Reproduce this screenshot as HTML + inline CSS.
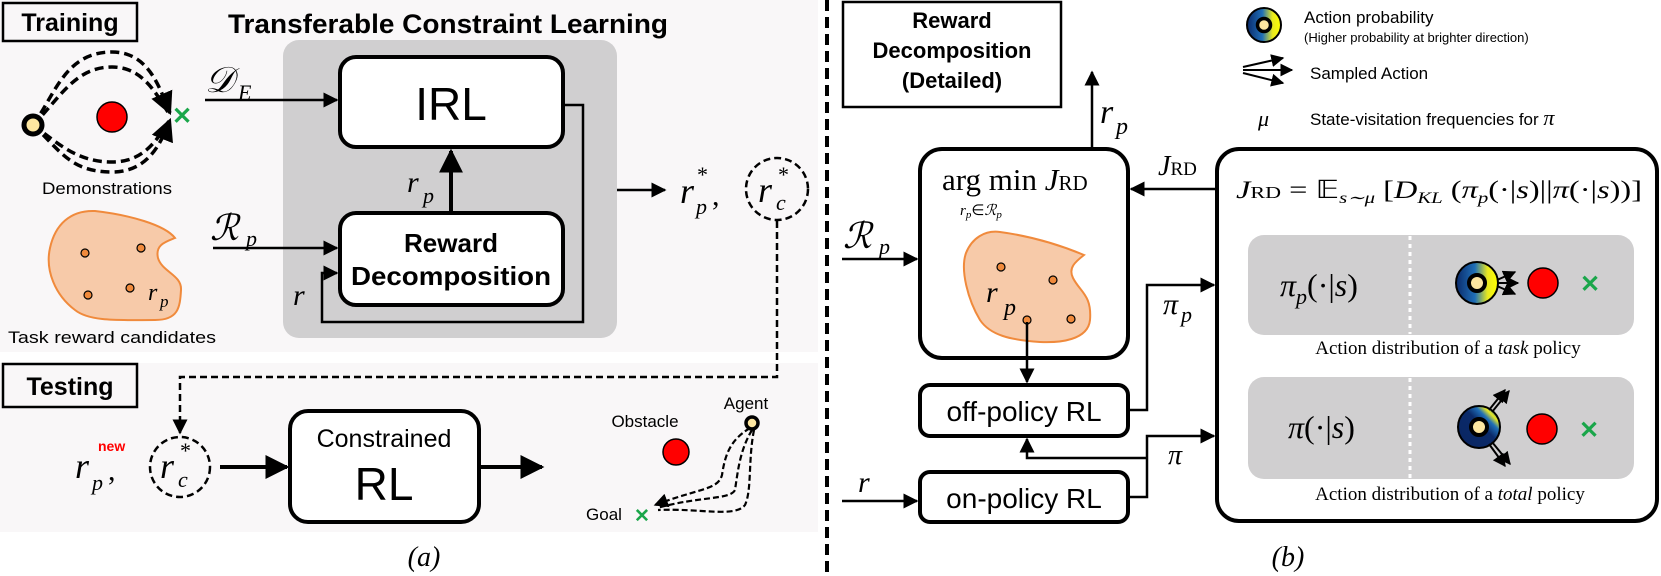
<!DOCTYPE html>
<html><head><meta charset="utf-8"><style>
html,body{margin:0;padding:0;background:#fff;width:1661px;height:576px;overflow:hidden}
svg{display:block}
.sb{font-family:"Liberation Sans",sans-serif;font-weight:bold}
.s{font-family:"Liberation Sans",sans-serif}
.m{font-family:"Liberation Serif",serif;font-style:italic}
.r{font-family:"Liberation Serif",serif}
</style></head><body>
<svg width="1661" height="576" viewBox="0 0 1661 576" xmlns="http://www.w3.org/2000/svg">
<defs>
<marker id="ah" viewBox="0 0 10 10" refX="9" refY="5" markerWidth="6" markerHeight="6" orient="auto-start-reverse" markerUnits="strokeWidth"><path d="M0,0L10,5L0,10z" fill="#000"/></marker>
<marker id="ahs" viewBox="0 0 10 10" refX="9" refY="5" markerWidth="6.5" markerHeight="6.5" orient="auto" markerUnits="strokeWidth"><path d="M0,0L10,5L0,10z" fill="#000"/></marker>
<linearGradient id="g1" x1="0" y1="0" x2="1" y2="0"><stop offset="0" stop-color="#0a2a6a"/><stop offset="0.45" stop-color="#1f6fb8"/><stop offset="0.75" stop-color="#e8e820"/><stop offset="1" stop-color="#ffff00"/></linearGradient>
<linearGradient id="g2" x1="0" y1="1" x2="1" y2="0"><stop offset="0" stop-color="#0a2560"/><stop offset="0.55" stop-color="#0a2a6a"/><stop offset="0.7" stop-color="#1f6fb8"/><stop offset="0.8" stop-color="#e8e820"/><stop offset="0.9" stop-color="#1f6fb8"/><stop offset="1" stop-color="#0a2a6a"/></linearGradient>
</defs>

<rect x="0" y="0" width="818" height="352" fill="#f9f7f8"/>
<rect x="0" y="363" width="818" height="169" fill="#f9f7f8"/>

<rect x="3" y="3" width="134" height="38" fill="none" stroke="#000" stroke-width="2.5"/>
<text x="70" y="31" class="sb" font-size="25" text-anchor="middle">Training</text>
<text x="448" y="33" class="sb" font-size="27" text-anchor="middle" textLength="440" lengthAdjust="spacingAndGlyphs">Transferable Constraint Learning</text>

<rect x="283" y="40" width="334" height="298" rx="16" fill="#d0cfd0"/>
<rect x="340" y="57" width="223" height="90" rx="16" fill="#fff" stroke="#000" stroke-width="4"/>
<text x="451" y="120" class="s" font-size="46" text-anchor="middle">IRL</text>
<rect x="340" y="213" width="223" height="92" rx="16" fill="#fff" stroke="#000" stroke-width="4"/>
<text x="451" y="252" class="sb" font-size="26" text-anchor="middle">Reward</text>
<text x="451" y="285" class="sb" font-size="26" text-anchor="middle" textLength="200" lengthAdjust="spacingAndGlyphs">Decomposition</text>
<line x1="451" y1="213" x2="451" y2="151" stroke="#000" stroke-width="4" marker-end="url(#ah)"/>
<text x="407" y="192" class="m" font-size="30">r</text><text x="423" y="203" class="m" font-size="22">p</text>
<polyline points="563,105 583,105 583,322 322,322 322,273 337,273" fill="none" stroke="#000" stroke-width="2.5" marker-end="url(#ah)"/>
<text x="293" y="305" class="m" font-size="30">r</text>

<text x="205" y="92" class="m" font-size="36">𝒟</text><text x="238" y="100" class="m" font-size="22">E</text>
<line x1="205" y1="100" x2="337" y2="100" stroke="#000" stroke-width="2.5" marker-end="url(#ah)"/>
<text x="210" y="240" class="m" font-size="36">ℛ</text><text x="246" y="246" class="m" font-size="22">p</text>
<line x1="213" y1="248" x2="337" y2="248" stroke="#000" stroke-width="2.5" marker-end="url(#ah)"/>

<g fill="none" stroke="#000" stroke-width="3.5" stroke-dasharray="9,5">
<path d="M33,125 C55,95 65,52 112,52 C150,52 160,90 170,113" marker-end="url(#ahs)"/>
<path d="M33,125 C60,98 75,67 112,67 C145,67 158,98 170,115"/>
<path d="M33,125 C60,150 70,172 112,172 C150,172 162,140 170,120" marker-end="url(#ahs)"/>
<path d="M33,125 C60,145 78,162 112,162 C145,162 158,138 169,121"/>
</g>
<circle cx="33" cy="125" r="9" fill="#fde6a0" stroke="#000" stroke-width="5"/>
<circle cx="112" cy="117" r="15" fill="#f00" stroke="#000" stroke-width="1.5"/>
<text x="182" y="124" class="sb" font-size="24" fill="#1aa64a" text-anchor="middle">✕</text>
<text x="107" y="194" class="s" font-size="17" text-anchor="middle" textLength="130" lengthAdjust="spacingAndGlyphs">Demonstrations</text>

<path d="M95,211 C130,215 165,225 175,238 C165,242 155,245 158,258 C162,272 182,275 181,290 C180,308 178,320 155,320 C120,320 90,322 75,310 C55,295 45,270 50,248 C55,225 70,210 95,211 Z" fill="#f7caa9" stroke="#f08a3c" stroke-width="2"/>
<g fill="#f08a3c" stroke="#000" stroke-width="1.2"><circle cx="85" cy="253" r="4"/><circle cx="141" cy="248" r="4"/><circle cx="88" cy="295" r="4"/><circle cx="130" cy="288" r="4"/></g>
<text x="148" y="300" class="m" font-size="24">r</text><text x="160" y="307" class="m" font-size="17">p</text>
<text x="112" y="343" class="s" font-size="17" text-anchor="middle" textLength="208" lengthAdjust="spacingAndGlyphs">Task reward candidates</text>

<line x1="617" y1="190" x2="665" y2="190" stroke="#000" stroke-width="2.5" marker-end="url(#ah)"/>
<text x="680" y="203" class="m" font-size="36">r</text><text x="697" y="182" class="r" font-size="22">*</text><text x="696" y="214" class="m" font-size="22">p</text><text x="712" y="205" class="r" font-size="30">,</text>
<circle cx="777" cy="189" r="31" fill="none" stroke="#000" stroke-width="2.5" stroke-dasharray="7,4"/>
<text x="758" y="202" class="m" font-size="36">r</text><text x="778" y="182" class="r" font-size="22">*</text><text x="776" y="210" class="m" font-size="22">c</text>
<polyline points="777,221 777,377 180,377 180,433" fill="none" stroke="#000" stroke-width="2.5" stroke-dasharray="7,4" marker-end="url(#ah)"/>

<rect x="3" y="364" width="134" height="43" fill="none" stroke="#000" stroke-width="2.5"/>
<text x="70" y="395" class="sb" font-size="25" text-anchor="middle">Testing</text>
<text x="75" y="478" class="m" font-size="36">r</text><text x="92" y="490" class="m" font-size="22">p</text><text x="108" y="480" class="r" font-size="30">,</text>
<text x="98" y="451" class="sb" font-size="14" fill="#f00">new</text>
<circle cx="180" cy="467" r="30" fill="none" stroke="#000" stroke-width="2.5" stroke-dasharray="7,4"/>
<text x="160" y="478" class="m" font-size="36">r</text><text x="180" y="458" class="r" font-size="22">*</text><text x="178" y="487" class="m" font-size="22">c</text>
<line x1="220" y1="467" x2="287" y2="467" stroke="#000" stroke-width="4" marker-end="url(#ah)"/>
<rect x="290" y="411" width="189" height="111" rx="18" fill="#fff" stroke="#000" stroke-width="4"/>
<text x="384" y="447" class="s" font-size="25" text-anchor="middle">Constrained</text>
<text x="384" y="500" class="s" font-size="46" text-anchor="middle">RL</text>
<line x1="479" y1="467" x2="542" y2="467" stroke="#000" stroke-width="4" marker-end="url(#ah)"/>
<text x="645" y="427" class="s" font-size="17" text-anchor="middle">Obstacle</text>
<circle cx="676" cy="452" r="13" fill="#f00" stroke="#000" stroke-width="1.5"/>
<text x="746" y="409" class="s" font-size="17" text-anchor="middle">Agent</text>
<text x="604" y="520" class="s" font-size="17" text-anchor="middle">Goal</text>
<text x="642" y="522" class="sb" font-size="19" fill="#1aa64a" text-anchor="middle">✕</text>
<g fill="none" stroke="#000" stroke-width="2.2" stroke-dasharray="6,3">
<path d="M750,428 C730,440 725,455 722,475 C718,490 700,488 655,505" marker-end="url(#ahs)"/>
<path d="M752,430 C740,450 738,470 735,490 C730,500 700,496 657,508"/>
<path d="M754,430 C748,460 752,490 745,505 C735,518 700,508 658,510"/>
</g>
<circle cx="752" cy="423" r="6" fill="#fde6a0" stroke="#000" stroke-width="3.5"/>
<text x="424" y="566" class="m" font-size="28" text-anchor="middle">(a)</text>

<line x1="827" y1="0" x2="827" y2="576" stroke="#000" stroke-width="4" stroke-dasharray="11,6"/>

<rect x="843" y="2" width="218" height="105" fill="none" stroke="#000" stroke-width="2.5"/>
<text x="952" y="28" class="sb" font-size="22" text-anchor="middle">Reward</text>
<text x="952" y="58" class="sb" font-size="22" text-anchor="middle">Decomposition</text>
<text x="952" y="88" class="sb" font-size="22" text-anchor="middle">(Detailed)</text>

<line x1="1092" y1="149" x2="1092" y2="72" stroke="#000" stroke-width="2.5" marker-end="url(#ah)"/>
<text x="1100" y="123" class="m" font-size="34">r</text><text x="1116" y="134" class="m" font-size="24">p</text>

<rect x="920" y="149" width="208" height="209" rx="22" fill="#fff" stroke="#000" stroke-width="4"/>
<text x="942" y="190" class="r" font-size="31">arg min <tspan class="m">J</tspan><tspan font-size="21">RD</tspan></text>
<text x="960" y="215" class="m" font-size="15">r<tspan font-size="11" dy="3">p</tspan><tspan dy="-3" class="r" font-style="normal">∈</tspan>ℛ<tspan font-size="11" dy="3">p</tspan></text>
<path d="M1000,232 C1030,236 1060,245 1084,255 C1075,262 1068,268 1073,278 C1080,292 1092,295 1090,320 C1088,340 1060,343 1040,342 C1010,340 990,335 980,320 C968,300 960,270 966,253 C972,238 985,230 1000,232 Z" fill="#f7caa9" stroke="#f08a3c" stroke-width="2"/>
<g fill="#f08a3c" stroke="#000" stroke-width="1.2"><circle cx="1001" cy="267" r="4"/><circle cx="1053" cy="280" r="4"/><circle cx="1027" cy="320" r="4"/><circle cx="1071" cy="319" r="4"/></g>
<text x="986" y="302" class="m" font-size="30">r</text><text x="1004" y="315" class="m" font-size="24">p</text>
<line x1="1027" y1="322" x2="1027" y2="382" stroke="#000" stroke-width="2.5" marker-end="url(#ah)"/>

<rect x="920" y="385" width="208" height="51" rx="10" fill="#fff" stroke="#000" stroke-width="4"/>
<text x="1024" y="421" class="s" font-size="28" text-anchor="middle">off-policy RL</text>
<rect x="920" y="472" width="208" height="50" rx="10" fill="#fff" stroke="#000" stroke-width="4"/>
<text x="1024" y="508" class="s" font-size="28" text-anchor="middle">on-policy RL</text>

<text x="843" y="248" class="m" font-size="36">ℛ</text><text x="879" y="254" class="m" font-size="22">p</text>
<line x1="842" y1="259" x2="917" y2="259" stroke="#000" stroke-width="2.5" marker-end="url(#ah)"/>
<text x="858" y="492" class="m" font-size="30">r</text>
<line x1="842" y1="501" x2="917" y2="501" stroke="#000" stroke-width="2.5" marker-end="url(#ah)"/>

<polyline points="1128,410 1147,410 1147,285 1214,285" fill="none" stroke="#000" stroke-width="2.5" marker-end="url(#ah)"/>
<text x="1163" y="314" class="m" font-size="30">π</text><text x="1181" y="322" class="m" font-size="22">p</text>
<polyline points="1128,497 1147,497 1147,436 1214,436" fill="none" stroke="#000" stroke-width="2.5" marker-end="url(#ah)"/>
<polyline points="1147,458 1027,458 1027,439" fill="none" stroke="#000" stroke-width="2.5" marker-end="url(#ah)"/>
<text x="1168" y="464" class="m" font-size="28">π</text>

<line x1="1217" y1="189" x2="1131" y2="189" stroke="#000" stroke-width="2.5" marker-end="url(#ah)"/>
<text x="1158" y="175" class="m" font-size="28">J<tspan class="r" font-style="normal" font-size="19">RD</tspan></text>

<rect x="1217" y="149" width="440" height="372" rx="22" fill="#fff" stroke="#000" stroke-width="4"/>
<text x="1236" y="198" class="r" font-size="25" textLength="406" lengthAdjust="spacingAndGlyphs"><tspan class="m">J</tspan><tspan font-size="17">RD</tspan> = 𝔼<tspan class="m" font-size="16" dy="5">s∼μ</tspan><tspan dy="-5"> [</tspan><tspan class="m">D</tspan><tspan class="m" font-size="16" dy="5">KL</tspan><tspan dy="-5"> (</tspan><tspan class="m">π</tspan><tspan class="m" font-size="16" dy="5">p</tspan><tspan dy="-5">(·|</tspan><tspan class="m">s</tspan>)||<tspan class="m">π</tspan>(·|<tspan class="m">s</tspan>))]</text>

<rect x="1248" y="235" width="386" height="100" rx="16" fill="#d0cfd0"/>
<line x1="1410" y1="236" x2="1410" y2="334" stroke="#fff" stroke-width="3" stroke-dasharray="4,4"/>
<text x="1280" y="296" class="m" font-size="32">π<tspan font-size="22" dy="8">p</tspan><tspan dy="-8" class="r" font-style="normal">(·|</tspan>s<tspan class="r" font-style="normal">)</tspan></text>
<circle cx="1477" cy="283" r="21" fill="url(#g1)" stroke="#000" stroke-width="2"/>
<circle cx="1477" cy="283" r="8" fill="#fde6a0" stroke="#000" stroke-width="4"/>
<g stroke="#000" stroke-width="2" fill="none"><line x1="1497" y1="280" x2="1515" y2="272" marker-end="url(#ahs)"/><line x1="1498" y1="283" x2="1518" y2="283" marker-end="url(#ahs)"/><line x1="1497" y1="286" x2="1515" y2="294" marker-end="url(#ahs)"/></g>
<circle cx="1543" cy="283" r="15" fill="#f00" stroke="#000" stroke-width="1.5"/>
<text x="1590" y="292" class="sb" font-size="24" fill="#1aa64a" text-anchor="middle">✕</text>
<text x="1448" y="354" class="r" font-size="19" text-anchor="middle">Action distribution of a <tspan font-style="italic">task</tspan> policy</text>

<rect x="1248" y="377" width="386" height="102" rx="16" fill="#d0cfd0"/>
<line x1="1410" y1="378" x2="1410" y2="478" stroke="#fff" stroke-width="3" stroke-dasharray="4,4"/>
<text x="1288" y="438" class="m" font-size="32">π<tspan class="r" font-style="normal">(·|</tspan>s<tspan class="r" font-style="normal">)</tspan></text>
<circle cx="1479" cy="427" r="21" fill="url(#g2)" stroke="#000" stroke-width="2"/>
<circle cx="1479" cy="427" r="8" fill="#fde6a0" stroke="#000" stroke-width="4"/>
<g stroke="#000" stroke-width="2" fill="none"><line x1="1489" y1="410" x2="1505" y2="390" marker-end="url(#ahs)"/><line x1="1492" y1="412" x2="1509" y2="391" marker-end="url(#ahs)"/><line x1="1489" y1="444" x2="1505" y2="466" marker-end="url(#ahs)"/><line x1="1492" y1="442" x2="1510" y2="464" marker-end="url(#ahs)"/></g>
<circle cx="1542" cy="429" r="15" fill="#f00" stroke="#000" stroke-width="1.5"/>
<text x="1589" y="438" class="sb" font-size="24" fill="#1aa64a" text-anchor="middle">✕</text>
<text x="1450" y="500" class="r" font-size="19" text-anchor="middle">Action distribution of a <tspan font-style="italic">total</tspan> policy</text>

<circle cx="1264" cy="25" r="17" fill="url(#g1)" stroke="#000" stroke-width="2"/>
<circle cx="1264" cy="25" r="6.5" fill="#fde6a0" stroke="#000" stroke-width="3.5"/>
<text x="1304" y="23" class="s" font-size="17">Action probability</text>
<text x="1304" y="42" class="s" font-size="13">(Higher probability at brighter direction)</text>
<g stroke="#000" stroke-width="2" fill="none"><line x1="1243" y1="67" x2="1283" y2="58" marker-end="url(#ahs)"/><line x1="1243" y1="70" x2="1292" y2="70" marker-end="url(#ahs)"/><line x1="1243" y1="73" x2="1283" y2="83" marker-end="url(#ahs)"/></g>
<text x="1310" y="79" class="s" font-size="17">Sampled Action</text>
<text x="1258" y="126" class="m" font-size="22">μ</text>
<text x="1310" y="125" class="s" font-size="17">State-visitation frequencies for <tspan class="m" font-size="22">π</tspan></text>

<text x="1288" y="566" class="m" font-size="28" text-anchor="middle">(b)</text>
</svg>
</body></html>
